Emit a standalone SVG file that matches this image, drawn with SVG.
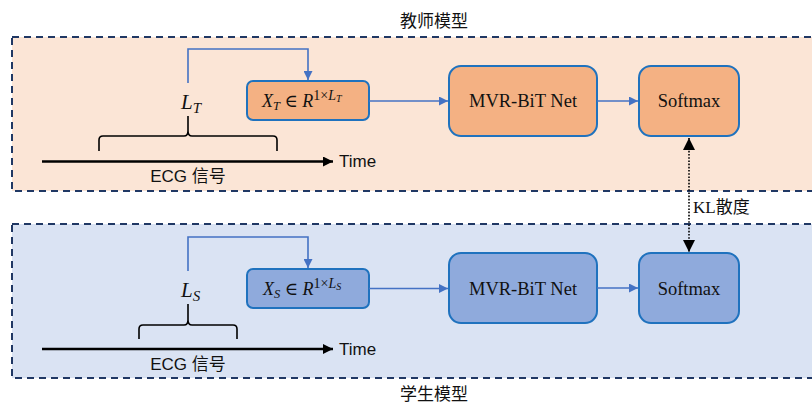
<svg xmlns="http://www.w3.org/2000/svg" width="812" height="405" viewBox="0 0 812 405">
<defs>
<style>
.region{stroke:#203864;stroke-width:2;stroke-dasharray:7,5}
.tbox{fill:#F4B183;stroke:#1F72BE;stroke-width:2}
.sbox{fill:#8FAADC;stroke:#1F72BE;stroke-width:2}
.conn{fill:none;stroke:#4472C4;stroke-width:1.6}
.axis{stroke:#000;stroke-width:2.5}
.brace{fill:none;stroke:#000;stroke-width:1.6}
.cjk{font-family:"Liberation Sans","Noto Sans CJK SC",sans-serif;font-size:17px;fill:#111}
.serif{font-family:"Liberation Serif","Noto Sans CJK SC",serif;font-size:18.5px;fill:#111}
.kl{font-family:"Liberation Serif","Noto Sans CJK SC",serif;font-size:17px;fill:#111}
.math{font-family:"Liberation Serif","DejaVu Serif",serif;font-style:italic;fill:#111}
.sans{font-family:"Liberation Sans","Noto Sans CJK SC",sans-serif;font-size:17px;fill:#111}
</style>
<marker id="ab" viewBox="0 0 10 10" refX="10" refY="5" markerWidth="9" markerHeight="9" markerUnits="userSpaceOnUse" orient="auto"><path d="M0,0L10,5L0,10z" fill="#4472C4"/></marker>
<marker id="ak" viewBox="0 0 10 10" refX="10" refY="5" markerWidth="10" markerHeight="10" markerUnits="userSpaceOnUse" orient="auto"><path d="M0,0L10,5L0,10z" fill="#000"/></marker>
<marker id="ad" viewBox="0 0 10 10" refX="10" refY="5" markerWidth="12" markerHeight="12" markerUnits="userSpaceOnUse" orient="auto-start-reverse"><path d="M0,0L10,5L0,10z" fill="#000"/></marker>
</defs>
<rect width="812" height="405" fill="#fff"/>
<g id="teacher-region">
<rect x="12" y="37" width="810" height="154" fill="#FBE5D6" class="region"/>
<text class="cjk" x="434" y="27" text-anchor="middle">教师模型</text>
</g>
<g id="student-region">
<rect x="12" y="224" width="810" height="154" fill="#DAE3F3" class="region"/>
<text class="cjk" x="434" y="400" text-anchor="middle">学生模型</text>
</g>
<g id="teacher-signal">
<line x1="42" y1="161.5" x2="333" y2="161.5" class="axis" marker-end="url(#ak)"/>
<text class="sans" x="339" y="167">Time</text>
<text class="sans" x="188" y="182" text-anchor="middle">ECG 信号</text>
<path class="brace" d="M99,151 V140 Q99,136 103,136 H184 Q188,136 188,131 V116 V131 Q188,136 192,136 H273 Q277,136 277,140 V151"/>
<text class="math" x="181" y="109" font-size="21">L<tspan font-size="15" dy="4">T</tspan></text>
</g>
<g id="student-signal">
<line x1="42" y1="349" x2="333" y2="349" class="axis" marker-end="url(#ak)"/>
<text class="sans" x="339" y="355">Time</text>
<text class="sans" x="188" y="370" text-anchor="middle">ECG 信号</text>
<path class="brace" d="M139,339 V329 Q139,325 143,325 H184 Q188,325 188,320 V304 V320 Q188,325 192,325 H233 Q237,325 237,329 V339"/>
<text class="math" x="181" y="297" font-size="21">L<tspan font-size="15" dy="4">S</tspan></text>
</g>
<g id="teacher-input">
<rect x="247" y="81" width="122" height="39" rx="6" class="tbox"/>
<text class="math" x="262" y="107" font-size="18">X<tspan font-size="12.5" dy="3">T</tspan><tspan dy="-3" font-style="normal"> ∈ </tspan>R<tspan font-size="14" dy="-7" font-style="normal">1×</tspan><tspan font-size="14">L</tspan><tspan font-size="10" dy="2">T</tspan></text>
</g>
<g id="teacher-net">
<rect x="449" y="66" width="148" height="70" rx="12" class="tbox"/>
<text class="serif" x="523" y="107" text-anchor="middle">MVR-BiT Net</text>
</g>
<g id="teacher-softmax">
<rect x="639" y="66" width="100" height="70" rx="12" class="tbox"/>
<text class="serif" x="689" y="107" text-anchor="middle">Softmax</text>
</g>
<g id="student-input">
<rect x="247" y="269" width="122" height="39" rx="6" class="sbox"/>
<text class="math" x="263" y="295" font-size="18">X<tspan font-size="12.5" dy="3">S</tspan><tspan dy="-3" font-style="normal"> ∈ </tspan>R<tspan font-size="14" dy="-7" font-style="normal">1×</tspan><tspan font-size="14">L</tspan><tspan font-size="10" dy="2">S</tspan></text>
</g>
<g id="student-net">
<rect x="449" y="253" width="148" height="70" rx="12" class="sbox"/>
<text class="serif" x="523" y="295" text-anchor="middle">MVR-BiT Net</text>
</g>
<g id="student-softmax">
<rect x="639" y="253" width="100" height="70" rx="12" class="sbox"/>
<text class="serif" x="689" y="295" text-anchor="middle">Softmax</text>
</g>
<g id="connectors">
<path class="conn" d="M188,83 V49 H308 V80" marker-end="url(#ab)"/>
<path class="conn" d="M369,101 H448" marker-end="url(#ab)"/>
<path class="conn" d="M597,101 H638" marker-end="url(#ab)"/>
<path class="conn" d="M188,271 V237 H308 V268" marker-end="url(#ab)"/>
<path class="conn" d="M369,288.5 H448" marker-end="url(#ab)"/>
<path class="conn" d="M597,288 H638" marker-end="url(#ab)"/>
<path d="M689,138 V252" fill="none" stroke="#000" stroke-width="1.6" stroke-dasharray="1.6,1.6" marker-start="url(#ad)" marker-end="url(#ad)"/>
<text class="kl" x="693" y="213">KL散度</text>
</g>
</svg>
